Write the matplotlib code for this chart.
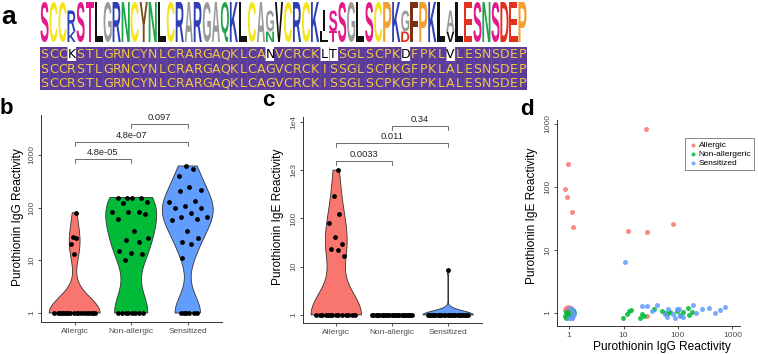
import numpy as np
import matplotlib
matplotlib.use('Agg')
import matplotlib.pyplot as plt
from matplotlib.textpath import TextPath
from matplotlib.patches import PathPatch, Rectangle
from matplotlib.font_manager import FontProperties
from matplotlib.transforms import Affine2D

plt.rcParams['font.family'] = ['Liberation Sans', 'DejaVu Sans']

# ---------------- data ----------------
seq_rows = ["SCCKSTLGRNCYNLCRARGAQKLCANVCRCKLTSGLSCPKDFPKLVLESNSDEP",
            "SCCRSTLGRNCYNLCRARGAQKLCAGVCRCKISSGLSCPKGFPKLALESNSDEP",
            "SCCRSTLGRNCYNLCRARGAQKLCAGVCRCKISSGLSCPKGFPKLALESNSDEP"]

groups = ["Allergic", "Non-allergic", "Sensitized"]
group_colors = ["#F8766D", "#00BA38", "#619CFF"]

igg_allergic = [80, 28, 26, 20, 13] + [1] * 18
igg_nonallergic = [155, 155, 155, 155, 126, 121, 83, 81, 83, 76, 60, 36, 26, 22, 24,
                   14, 15, 13, 10] + [1] * 8
igg_sensitized = [617, 534, 403, 243, 207, 219, 126, 132, 97, 97, 107, 79, 66, 60, 58,
                  67, 36, 27, 20, 22, 11] + [1] * 6

ige_allergic = [1000, 290, 125, 80, 42, 30, 23, 22, 17] + [1] * 14
ige_nonallergic = [1] * 26
ige_sensitized = [8.5] + [1] * 26

pvals_b = ["4.8e-05", "4.8e-07", "0.097"]
pvals_c = ["0.0033", "0.011", "0.34"]
pairs = [(1, 2), (1, 3), (2, 3)]

# panel d (IgG, IgE)
d_all_igg = [25.5, 0.95, 0.83, 0.93, 1.12, 1.18, 11.9, 26.7, 82, 27,
             0.88, 0.95, 1.02, 1.10, 0.85, 0.92, 1.05, 1.15, 0.90, 1.00, 1.08, 0.95, 1.12]
d_all_ige = [830, 229, 94, 69, 40, 23, 20, 19, 26, 0.88,
             1.20, 1.22, 1.21, 1.18, 1.12, 1.15, 1.10, 1.05, 1.00, 0.95, 0.90, 0.86, 0.84]
d_non_igg = [9.9, 11.5, 12.6, 13.8, 20, 22, 24, 36, 50, 58, 66, 71, 95, 110, 125, 151, 160, 183,
             0.83, 0.86, 0.90, 0.95, 1.00, 1.18, 1.22, 0.88]
d_non_ige = [0.84, 0.95, 1.08, 1.10, 0.84, 0.95, 0.88, 1.17, 1.08, 1.01, 1.00, 1.04, 1.08, 0.92,
             1.04, 1.21, 0.93, 1.04,
             0.90, 0.82, 0.95, 1.05, 0.88, 1.10, 1.05, 1.03]
d_sen_igg = [10.7, 22, 26.7, 33, 40.6, 58, 62, 66, 82, 90, 98, 104, 110, 125, 191, 215, 272, 375,
             477, 600, 728,
             1.05, 1.12, 1.20, 1.15, 1.00, 1.25]
d_sen_ige = [6.5, 1.29, 1.29, 1.08, 1.33, 0.95, 0.86, 1.14, 0.95, 0.82, 1.14, 1.17, 0.90, 0.86,
             1.33, 1.00, 1.17, 1.21, 0.99, 1.10, 1.26,
             1.18, 1.12, 0.88, 0.82, 0.84, 0.95]

aa_colors = {'S': '#E3198C', 'T': '#E3198C', 'C': '#F5E416', 'R': '#2F3FB5', 'K': '#2F3FB5',
             'L': '#111111', 'V': '#111111', 'I': '#111111', 'G': '#9A9A9A', 'A': '#9A9A9A',
             'N': '#1FA64A', 'Q': '#1FA64A', 'Y': '#7A4A1A', 'F': '#7A3312',
             'P': '#F4A030', 'D': '#E2321E', 'E': '#E2321E'}

# ---------------- figure ----------------
W, H = 758, 354
fig = plt.figure(figsize=(W / 100, H / 100), dpi=100)


def px_axes(left, top, right, bottom):
    return fig.add_axes([left / W, 1 - bottom / H, (right - left) / W, (bottom - top) / H])


# ---- panel a: logo ----
fp_logo = FontProperties(family='Liberation Sans', weight='bold')


def draw_letter(ax, ch, x, y, w, h, color):
    tp = TextPath((0, 0), ch, size=1, prop=fp_logo)
    bb = tp.get_extents()
    if ch == 'I':
        x, w = x + w * 0.35, w * 0.3
    t = Affine2D().translate(-bb.x0, -bb.y0).scale(w / bb.width, h / bb.height).translate(x, y)
    ax.add_patch(PathPatch(t.transform_path(tp), fc=color, ec='none', lw=0))


nseq = len(seq_rows[0])
ax_logo = px_axes(40, 2, 527, 42)
ax_logo.set_xlim(0, nseq)
ax_logo.set_ylim(0, 1)
ax_logo.axis('off')
for i in range(nseq):
    col = [r[i] for r in seq_rows]
    letters, counts = np.unique(col, return_counts=True)
    p = counts / counts.sum()
    ent = -(p * np.log2(p)).sum()
    info = (np.log2(20) - ent) / np.log2(20)
    y0 = 0.0
    for j in np.argsort(p):
        h = p[j] * info
        draw_letter(ax_logo, letters[j], i + 0.05, y0, 0.9, h, aa_colors.get(letters[j], 'k'))
        y0 += h

ax_rows = px_axes(40, 47, 527, 90)
ax_rows.set_xlim(0, nseq)
ax_rows.set_ylim(len(seq_rows), 0)
ax_rows.axis('off')
ax_rows.add_patch(Rectangle((0, 0), nseq, len(seq_rows), fc='#5B3C9A', ec='none'))
for i in range(1, nseq):
    ax_rows.plot([i, i], [0, len(seq_rows)], color='#6E55A8', lw=0.4)
ref = seq_rows[-1]
for r, s in enumerate(seq_rows):
    for i, ch in enumerate(s):
        diff = ch != ref[i]
        if diff:
            ax_rows.add_patch(Rectangle((i, r), 1, 1, fc='white', ec='none'))
        ax_rows.text(i + 0.5, r + 0.55, ch, ha='center', va='center', fontsize=9,
                     family='DejaVu Sans', color='black' if diff else '#F2C744')


# ---- helpers for violins ----
def kde_log(vals):
    lv = np.log10(np.asarray(vals, float))
    n = len(lv)
    sd = lv.std(ddof=1)
    q75, q25 = np.percentile(lv, [75, 25])
    lo = min(sd, (q75 - q25) / 1.34)
    if lo == 0:
        lo = sd
    bw = 0.9 * lo * n ** -0.2
    grid = np.linspace(lv.min(), lv.max(), 512)
    dens = np.exp(-0.5 * ((grid[:, None] - lv[None, :]) / bw) ** 2).sum(1)
    return lv, grid, dens / dens.max()


def violin(ax, pos, vals, color, halfw=0.45):
    lv = np.log10(np.asarray(vals, float))
    k = np.arange(len(lv))
    u = 2 * ((k * 0.6180339887 + 0.31) % 1) - 1
    order = np.argsort(lv, kind='stable')
    uu = np.empty_like(u)
    uu[order] = u
    if lv.max() == lv.min():
        offs = uu * 0.38
    else:
        lv, grid, dens = kde_log(vals)
        xs = np.concatenate([pos - dens * halfw, (pos + dens * halfw)[::-1]])
        ys = 10 ** np.concatenate([grid, grid[::-1]])
        ax.fill(xs, ys, fc=color, ec='#333333', lw=0.6, zorder=2)
        offs = uu * np.interp(lv, grid, dens) * halfw * 0.85
    ax.scatter(pos + offs, vals, s=12, color='black', zorder=3, lw=0)


def style_axes(ax):
    for s in ['top', 'right']:
        ax.spines[s].set_visible(False)
    for s in ['left', 'bottom']:
        ax.spines[s].set_color('#333333')
        ax.spines[s].set_linewidth(0.7)
    ax.tick_params(length=2.5, width=0.6, color='#333333', labelsize=6,
                   labelcolor='#4D4D4D', pad=1.5)
    ax.minorticks_off()


def violin_panel(ax, data, ylim, yticks, yticklabels, pvals, brack_y, ppd):
    for k, (vals, col) in enumerate(zip(data, group_colors)):
        violin(ax, k + 1, vals, col)
    ax.set_yscale('log')
    ax.set_xlim(0.4, 3.6)
    ax.set_ylim(*ylim)
    ax.set_xticks([1, 2, 3])
    ax.set_xticklabels(groups)
    ax.set_yticks(yticks)
    ax.set_yticklabels(yticklabels)
    style_axes(ax)
    ax.tick_params(axis='y', labelrotation=90)
    for lbl in ax.get_yticklabels():
        lbl.set_va('center')
    tip = 10 ** (-4 / ppd)
    lab = 10 ** (2 / ppd)
    for (a, b), pv, yb in zip(pairs, pvals, brack_y):
        ax.plot([a, a, b, b], [yb * tip, yb, yb, yb * tip], color='#555555', lw=0.6)
        ax.text((a + b) / 2, yb * lab, pv, ha='center', va='bottom', fontsize=6.7, color='#222222')


# ---- panel b ----
ax_b = px_axes(40.7, 115, 221.7, 322)
violin_panel(ax_b, [igg_allergic, igg_nonallergic, igg_sensitized], (0.675, 5715),
             [1, 10, 100, 1000], ['1', '10', '100', '1000'], pvals_b, [836, 1758, 3857], 52.7)

# ---- panel c ----
ax_c = px_axes(302.7, 117, 481.7, 323)
violin_panel(ax_c, [ige_allergic, ige_nonallergic, ige_sensitized], (0.68, 12600),
             [1, 10, 100, 1000, 10000], ['1', '10', '100', '1e3', '1e4'], pvals_c,
             [1566, 3590, 8190], 48.3)

# ---- panel d ----
ax_d = px_axes(557, 120, 740, 326)
for (xv, yv), col, name in zip([(d_all_igg, d_all_ige), (d_non_igg, d_non_ige), (d_sen_igg, d_sen_ige)],
                               group_colors, ["Allergic", "Non-allergeric", "Sensitized"]):
    ax_d.scatter(xv, yv, s=13, color=col, alpha=0.85, lw=0, label=name, zorder=3)
ax_d.set_xscale('log')
ax_d.set_yscale('log')
ax_d.set_xlim(0.6, 1380)
ax_d.set_ylim(0.62, 1150)
ax_d.set_xticks([1, 10, 100, 1000])
ax_d.set_xticklabels(['1', '10', '100', '1000'])
ax_d.set_yticks([1, 10, 100, 1000])
ax_d.set_yticklabels(['1', '10', '100', '1000'])
style_axes(ax_d)
ax_d.tick_params(axis='y', labelrotation=90)
for lbl in ax_d.get_yticklabels():
    lbl.set_va('center')
leg = ax_d.legend(loc='upper left', bbox_to_anchor=(685 / W, 1 - 138 / H), bbox_transform=fig.transFigure,
                  fontsize=6, frameon=True, fancybox=False, edgecolor='#888888', framealpha=1,
                  handletextpad=0.1, borderpad=0.35, labelspacing=0.15, handlelength=1.2,
                  markerscale=0.8, borderaxespad=0)
leg.get_frame().set_linewidth(0.7)

# ---- axis labels ----
fig.text(18 / W, 1 - 217 / H, "Purothionin IgG Reactivity", rotation=90, ha='center', va='center', fontsize=8.6)
fig.text(278 / W, 1 - 217 / H, "Purothionin IgE Reactivity", rotation=90, ha='center', va='center', fontsize=8.6)
fig.text(532 / W, 1 - 216 / H, "Purothionin IgE Reactivity", rotation=90, ha='center', va='center', fontsize=8.6)
fig.text(662 / W, 1 - 347 / H, "Purothionin IgG Reactivity", ha='center', va='center', fontsize=8.6)

# ---- panel letters ----
fig.text(8.7 / W, 1 - 16.7 / H, "a", ha='center', va='center', fontsize=19, fontweight='bold')
fig.text(0 / W, 1 - 114 / H, "b", ha='left', va='baseline', fontsize=16, fontweight='bold')
fig.text(261.7 / W, 1 - 106 / H, "c", ha='left', va='baseline', fontsize=16, fontweight='bold')
fig.text(520 / W, 1 - 115 / H, "d", ha='left', va='baseline', fontsize=16, fontweight='bold')

fig.savefig('out.png', dpi=100)
